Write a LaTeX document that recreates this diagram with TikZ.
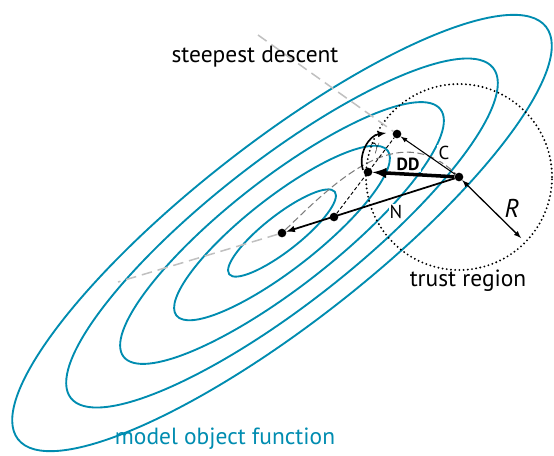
\documentclass[tikz,border=0pt]{standalone}
\usepackage{fontspec}
\setmainfont{PT Sans}
\definecolor{contour}{RGB}{0,140,176}
\definecolor{lightgray}{RGB}{192,192,192}
\definecolor{pathgray}{RGB}{125,125,125}

\begin{document}
\begin{tikzpicture}[x=0.3mm,y=-0.3mm,>=latex,
  level/.style={contour,line width=1.6pt},
  dot/.style={circle,fill=black,inner sep=0pt,minimum size=2.6mm},
  lbl/.style={font=\fontsize{16}{18}\selectfont,fill=white,inner sep=1pt},
  big/.style={font=\fontsize{20}{24}\selectfont}]
  \useasboundingbox (0,0) rectangle (554,455);
  % contours of the model function
  \coordinate (min) at (282,233);
  \foreach \k [evaluate=\k as \ra using 20.1*\k, evaluate=\k as \rb using 5.4*\k] in {1,...,5}
    \draw[level] (min) ellipse [x radius=\ra mm, y radius=\rb mm, rotate=38];
  % points
  \node[dot] (M)  at (min) {};
  \node[dot] (N)  at (334,217) {};
  \node[dot] (DD) at (368,172) {};
  \node[dot] (C)  at (397,134) {};
  \node[dot] (X)  at (459,177) {};
  \coordinate (sdend) at (258,35);
  \coordinate (nwend) at (118,282);
  \coordinate (Rend)  at (521,238);
  \coordinate (ga) at (363,170);
  \coordinate (gb) at (386,133);
  % trust region
  \draw[line width=1.8pt,line cap=round,dash pattern=on 0pt off 3.6pt] (X) circle (27.9mm);
  % steepest descent and Newton direction
  \draw[lightgray,line width=1.3pt,dash pattern=on 9pt off 5pt] (sdend) -- (C);
  \draw[lightgray,line width=1.3pt,dash pattern=on 9pt off 5pt] (M) -- (nwend);
  \draw[pathgray,line width=0.9pt,dash pattern=on 6pt off 3pt] (M) .. controls (335,182) and (398,118) .. (X);
  % labels
  \node[big] (sd) at (255,57) {steepest descent};
  \node[big,text=contour] (mof) at (225,439) {model object function};
  \node[big] (tr) at (468,281) {trust region};
  \node[font=\fontsize{22}{24}\selectfont\itshape] (Rl) at (512,208) {R};
  \node[lbl] (Cl) at (444,153) {C};
  \node[lbl] (Nl) at (396,212) {N};
  \node[lbl,font=\fontsize{15}{18}\selectfont\bfseries] (DDl) at (408,164) {DD};
  \node[font=\fontsize{15}{18}\selectfont] (gl) at (375,148) {$\gamma$};
  % steps
  \draw[line width=0.8pt,dash pattern=on 3pt off 2pt] (N) -- (C);
  \draw[line width=1.4pt,->] (ga) to[bend left=50] (gb);
  \draw[line width=0.9pt,->] (X) -- (C);
  \draw[line width=3pt,->] (X) -- (DD);
  \draw[line width=1.5pt,->] (X) -- (M);
  \draw[line width=1.1pt,<->] (X) -- (Rend);
\end{tikzpicture}
\end{document}
